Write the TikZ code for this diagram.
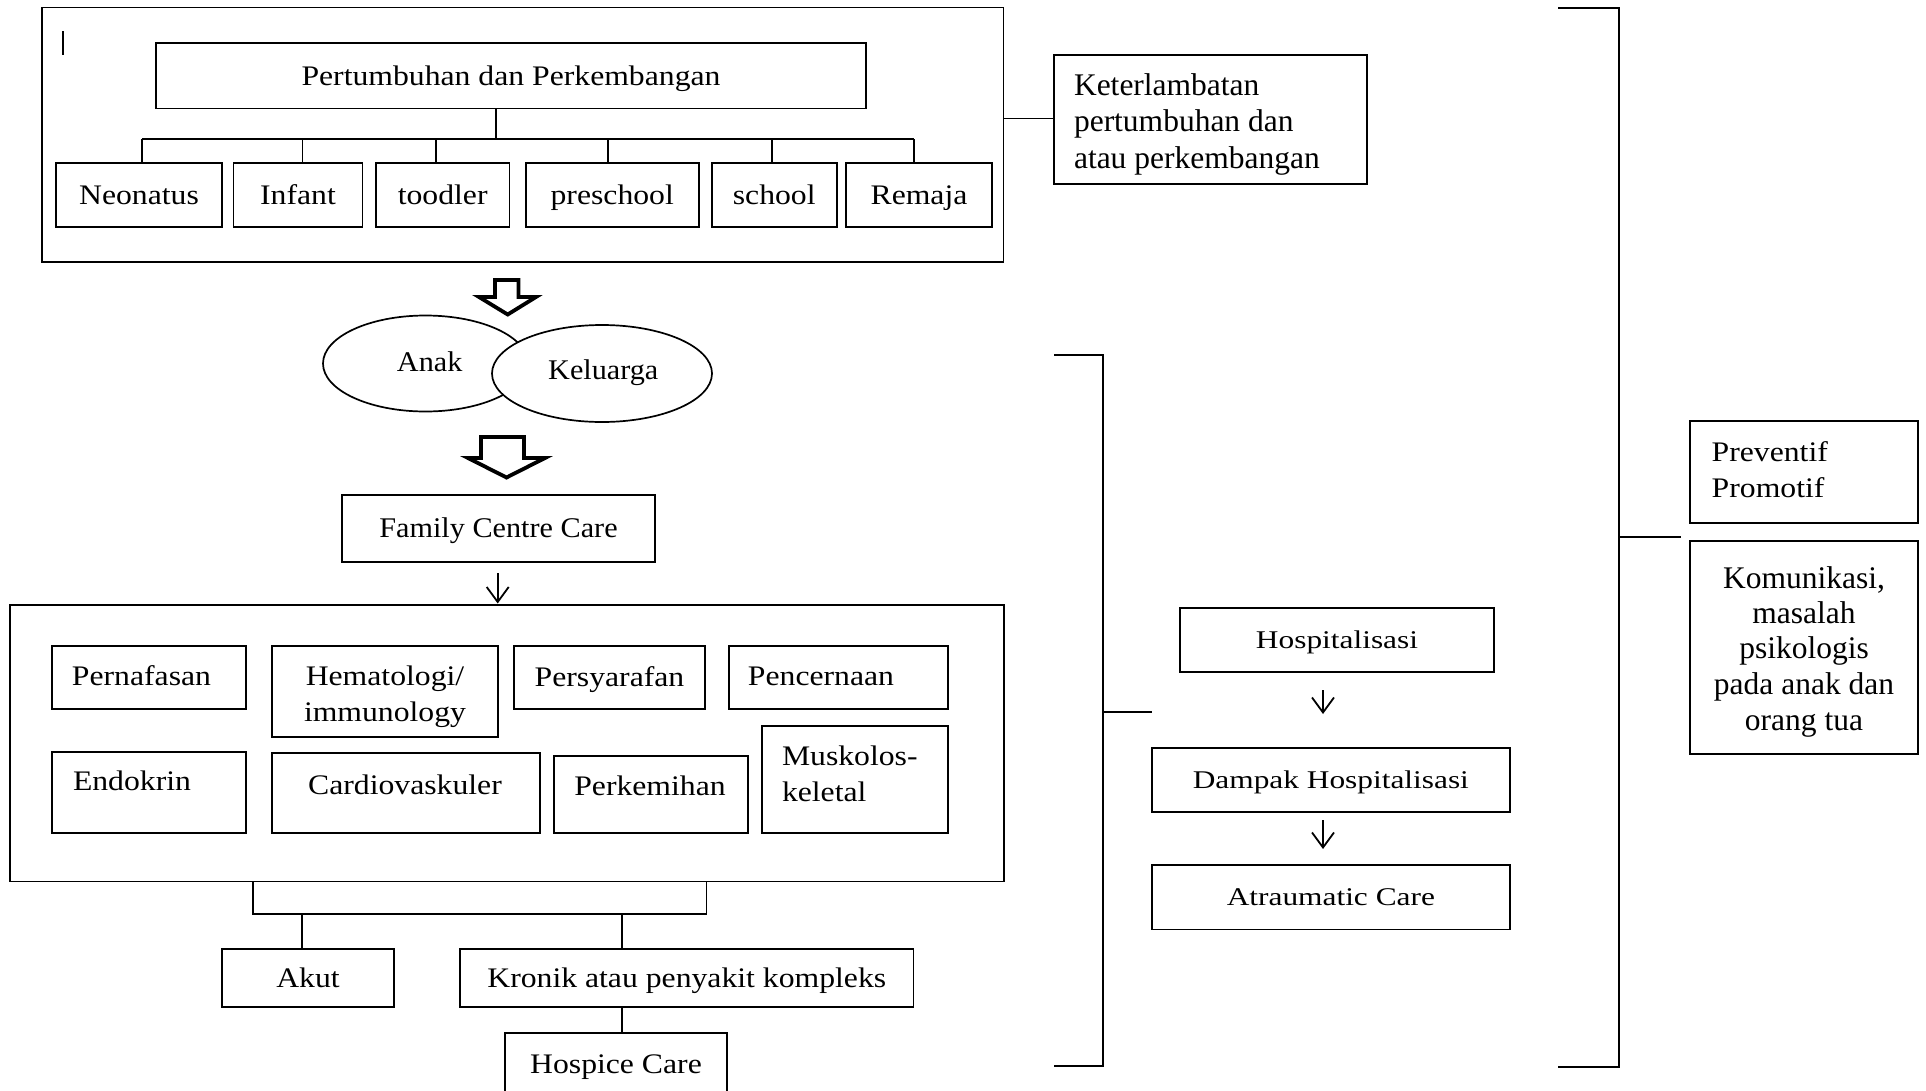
\documentclass[tikz,border=0pt]{standalone}
\usepackage{fontspec}
\setmainfont{Liberation Serif}
\newfontfamily\fA[FakeStretch=1.12]{Liberation Serif}
\newfontfamily\fB[FakeStretch=1.23]{Liberation Serif}
\newfontfamily\fC[FakeStretch=1.06]{Liberation Serif}
\usetikzlibrary{arrows.meta,shapes.geometric}
\newcommand\rb[7][]{\node[box, minimum width={(#5)-(#3)}, minimum height={(#6)-(#4)}, #1] (#2) at ({((#3)+(#5))/2},{((#4)+(#6))/2}) {#7};}
\begin{document}
\begin{tikzpicture}[x=1pt,y=-1pt,
  tA/.style={font=\fA\fontsize{28.3}{34}\selectfont, text height=18.5pt, text depth=0pt},
  tB/.style={font=\fB\fontsize{25.5}{30}\selectfont, text height=16.7pt, text depth=0pt},
  tC/.style={font=\fC\fontsize{28.5}{34}\selectfont, text height=18.7pt, text depth=0pt},
  tN/.style={font=\fontsize{31.5}{36}\selectfont},
  tAl/.style={font=\fA\fontsize{28.3}{34}\selectfont},
  box/.style={draw, line width=1.7pt, inner sep=0pt, outer sep=0pt, align=center, tA},
  lbl/.style={inner sep=0pt, outer sep=0pt},
  ln/.style={line width=1.7pt},
  arr/.style={line width=1.8pt, -{Straight Barb[length=15pt,width=22pt]}},
  hollow/.style={line width=3.8pt, line join=miter}]
\useasboundingbox (0,0) rectangle (1926,1090);

% top group
\rb{outer}{41.8}{7.4}{1003.5}{262}{}
\draw[line width=2.5pt] (63,31) -- (63,55);
\rb{pert}{156}{43}{866}{108.5}{Pertumbuhan dan Perkembangan}
\rb{neo}{56}{162.7}{222}{227.3}{Neonatus}
\rb{inf}{233.6}{162.7}{362.4}{227.3}{Infant}
\rb{tod}{376}{162.7}{509.4}{227.3}{toodler}
\rb{pre}{525.7}{162.7}{698.8}{227.3}{preschool}
\rb{sch}{711.8}{162.7}{836.7}{227.3}{school}
\rb{rem}{845.8}{162.7}{992.2}{227.3}{Remaja}
\coordinate (bus) at (496,139.3);
\coordinate (d1) at (141.8,139.3);
\coordinate (d2) at (302.5,139.3);
\coordinate (d3) at (436,139.3);
\coordinate (d4) at (608,139.3);
\coordinate (d5) at (772,139.3);
\coordinate (d6) at (914,139.3);
\draw[ln] (pert.south -| bus) -- (bus);
\draw[ln] (d1) -- (d6);
\draw[ln] (d1) -- (d1 |- neo.north);
\draw[ln] (d2) -- (d2 |- inf.north);
\draw[ln] (d3) -- (d3 |- tod.north);
\draw[ln] (d4) -- (d4 |- pre.north);
\draw[ln] (d5) -- (d5 |- sch.north);
\draw[ln] (d6) -- (d6 |- rem.north);

% Keterlambatan
\rb{ket}{1054}{55}{1367}{184}{}
\node[lbl, tN, anchor=base west] (ket1) at (1074,95.7) {Keterlambatan};
\node[lbl, tN, anchor=base west] (ket2) at (1074,131.8) {pertumbuhan dan};
\node[lbl, tN, anchor=base west] (ket3) at (1074,168.2) {atau perkembangan};
\coordinate (kc) at (0,118.5);
\draw[ln] (outer.east |- kc) -- (ket.west |- kc);

% hollow arrows and ellipses
\draw[hollow] (495,280) -- (518.5,280) -- (518.5,297) -- (536,297) -- (507.7,314.5) -- (479,297) -- (495,297) -- cycle;
\node[ellipse, draw, line width=1.7pt, minimum width=205pt, minimum height=96pt, inner sep=0pt] (anak) at (425.5,363.5) {};
\node[ellipse, draw, fill=white, line width=1.7pt, minimum width=220pt, minimum height=97pt, inner sep=0pt] (kel) at (602,373.5) {};
\node[lbl, tC] (anakt) at (429.7,361.7) {Anak};
\node[lbl, tC] (kelt) at (603.3,369.7) {Keluarga};
\draw[hollow] (481,437) -- (524,437) -- (524,458) -- (545,458) -- (506.5,477.5) -- (468,458) -- (481,458) -- cycle;

% Family Centre Care
\rb[tC]{fcc}{342}{495}{655}{562}{Family Centre Care}
\rb{big}{10}{605}{1004}{881.5}{}
\coordinate (fa) at (497.7,0);
\draw[arr, shorten <=11.3pt, shorten >=1.5pt] (fcc.south -| fa) -- (big.north -| fa);

% systems
\rb{pern}{52}{646}{246}{709}{}
\node[lbl, tA] (pernt) at (141.5,676) {Pernafasan};
\rb{hem}{272}{646}{498}{737}{}
\node[lbl, tAl, anchor=base] (hem1) at (385,685) {Hematologi/};
\node[lbl, tAl, anchor=base] (hem2) at (385,721.7) {immunology};
\rb{pers}{514}{646}{705}{709}{Persyarafan}
\rb{penc}{729}{646}{948}{709}{}
\node[lbl, tA] (venct) at (821,676) {Pencernaan};
\rb{endo}{52}{752}{246}{833}{}
\node[lbl, tA] (endot) at (132,781.7) {Endokrin};
\rb{card}{272}{753}{540}{833}{}
\node[lbl, tA] (cardt) at (405,785) {Cardiovaskuler};
\rb{perk}{554}{756}{748}{833}{}
\node[lbl, tA] (perkt) at (650,786.7) {Perkemihan};
\rb{musk}{762}{726}{948}{833}{}
\node[lbl, tAl, anchor=base west] (musk1) at (782,765) {Muskolos-};
\node[lbl, tAl, anchor=base west] (musk2) at (782,801.7) {keletal};

% bottom
\coordinate (bl) at (253,914);
\coordinate (br) at (706.5,914);
\draw[ln] (big.south -| bl) -- (bl) -- (br) -- (big.south -| br);
\rb{akut}{222}{949}{394}{1007}{Akut}
\rb{kron}{460}{949}{913.5}{1007}{Kronik atau penyakit kompleks}
\rb{hospice}{505}{1033}{727}{1095}{Hospice Care}
\coordinate (ka) at (302,914);
\coordinate (kk) at (622,914);
\draw[ln] (ka) -- (akut.north -| ka);
\draw[ln] (kk) -- (kron.north -| kk);
\draw[ln] (kron.south -| kk) -- (hospice.north -| kk);

% middle bracket
\coordinate (m1) at (1054,355);
\coordinate (m2) at (1103.3,355);
\coordinate (m3) at (1103.3,1066);
\coordinate (m4) at (1054,1066);
\coordinate (mt1) at (1103.3,711.7);
\coordinate (mt2) at (1151.7,711.7);
\draw[ln] (m1) -- (m2) -- (m3) -- (m4);
\draw[ln] (mt1) -- (mt2);

% hospitalisation chain
\rb[tB]{hosp}{1180}{608}{1494}{672}{Hospitalisasi}
\rb[tB]{damp}{1151.7}{748}{1510}{811.7}{Dampak Hospitalisasi}
\rb[tB]{atra}{1151.7}{865}{1510}{929.6}{Atraumatic Care}
\coordinate (ax) at (1323,0);
\draw[arr, shorten <=18pt, shorten >=34pt] (hosp.south -| ax) -- (damp.north -| ax);
\draw[arr, shorten <=8.3pt, shorten >=16pt] (damp.south -| ax) -- (atra.north -| ax);

% right bracket
\coordinate (r1) at (1558,8);
\coordinate (r2) at (1619,8);
\coordinate (r3) at (1619,1067);
\coordinate (r4) at (1558,1067);
\coordinate (rt1) at (1619,537);
\coordinate (rt2) at (1680.7,537);
\draw[ln] (r1) -- (r2) -- (r3) -- (r4);
\draw[ln] (rt1) -- (rt2);

\rb{prev}{1690}{421}{1918}{523}{}
\node[lbl, tAl, anchor=base west] (prev1) at (1711.7,461.7) {Preventif};
\node[lbl, tAl, anchor=base west] (prev2) at (1711.7,497.3) {Promotif};
\rb{komu}{1690}{541}{1918}{754}{}
\node[lbl, tN, anchor=base] (komu1) at (1804,588.3) {Komunikasi,};
\node[lbl, tN, anchor=base] (komu2) at (1804,623.5) {masalah};
\node[lbl, tN, anchor=base] (komu3) at (1804,658.7) {psikologis};
\node[lbl, tN, anchor=base] (komu4) at (1804,694.8) {pada anak dan};
\node[lbl, tN, anchor=base] (komu5) at (1804,730) {orang tua};
\end{tikzpicture}
\end{document}
